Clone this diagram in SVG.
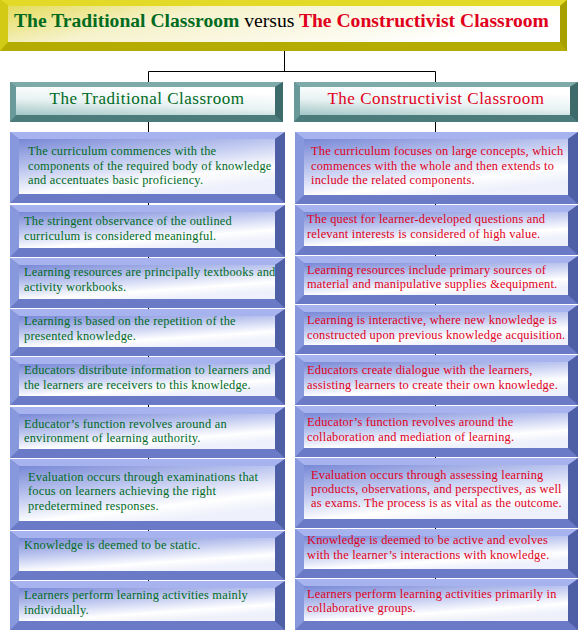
<svg xmlns="http://www.w3.org/2000/svg" width="579" height="632" viewBox="0 0 579 632">
<defs>
<linearGradient id="gBlue" x1="0" y1="0" x2="0.55" y2="1">
<stop offset="0" stop-color="#7888d6"/>
<stop offset="0.45" stop-color="#c0c9f0"/>
<stop offset="0.8" stop-color="#ffffff"/>
<stop offset="1" stop-color="#eef0fb"/>
</linearGradient>
<linearGradient id="gYel" x1="0" y1="0" x2="1" y2="0.3">
<stop offset="0" stop-color="#e4dc5c"/>
<stop offset="0.35" stop-color="#f6f2cc"/>
<stop offset="1" stop-color="#ffffff"/>
</linearGradient>
<linearGradient id="gTeal" x1="0" y1="1" x2="0.4" y2="0">
<stop offset="0" stop-color="#a4c6c6"/>
<stop offset="0.5" stop-color="#e8f2f2"/>
<stop offset="1" stop-color="#ffffff"/>
</linearGradient>
</defs>
<style>
.bb{fill:#6a7ac6}.bt{fill:#a6b3ef}.bl{fill:#8898dd}.br{fill:#4f5fa6}.bf{fill:url(#gBlue)}
.yb{fill:#b4ac00}.yt{fill:#e2da26}.yl{fill:#d2ca14}.yr{fill:#a89f00}.yf{fill:url(#gYel)}
.tb{fill:#4b7b7b}.tt{fill:#7faaaa}.tl{fill:#6a9999}.tr{fill:#3d6a6a}.tf{fill:url(#gTeal)}
.con{stroke:#000;stroke-width:1;fill:none}
text{font-family:"Liberation Serif","Times New Roman",serif}
.g{fill:#006b1e}.r{fill:#e0001b}
.body{font-size:12.4px;letter-spacing:0.2px}
.hd{font-size:17px;letter-spacing:0.5px}
.tl1{font-size:19.6px;font-weight:bold}
</style>
<rect width="579" height="632" fill="#ffffff"/>
<g id="connectors">
<path class="con" d="M284.5,50V71.5M148.5,71.5H435.5M148.5,71.5V82M435.5,71.5V82M148.5,122V630M435.5,122V630"/>
</g>
<g id="title">
<rect class="yb" x="0" y="0" width="567" height="51"/>
<polygon class="yt" points="0,0 567,0 560,6 8,6"/>
<polygon class="yl" points="0,0 8,6 8,42 0,51"/>
<polygon class="yr" points="567,0 567,51 560,42 560,6"/>
<rect class="yf" x="8" y="6" width="552" height="36"/>
<text class="tl1" x="14" y="27"><tspan class="g">The Traditional Classroom</tspan> <tspan font-weight="normal" fill="#000">versus</tspan> <tspan class="r">The Constructivist Classroom</tspan></text>
</g>
<g id="hdr-left">
<rect class="tb" x="10" y="82" width="273" height="40"/>
<polygon class="tt" points="10,82 283,82 275,87 16,87"/>
<polygon class="tl" points="10,82 16,87 16,115 10,122"/>
<polygon class="tr" points="283,82 283,122 275,115 275,87"/>
<rect class="tf" x="16" y="87" width="259" height="28"/>
<text class="hd g" x="147" y="104" text-anchor="middle">The Traditional Classroom</text>
</g>
<g id="hdr-right">
<rect class="tb" x="294" y="82" width="284" height="40"/>
<polygon class="tt" points="294,82 578,82 570,87 300,87"/>
<polygon class="tl" points="294,82 300,87 300,115 294,122"/>
<polygon class="tr" points="578,82 578,122 570,115 570,87"/>
<rect class="tf" x="300" y="87" width="270" height="28"/>
<text class="hd r" x="436" y="104" text-anchor="middle">The Constructivist Classroom</text>
</g>
<g id="L1">
<rect class="bb" x="10" y="132" width="275" height="71"/>
<polygon class="bt" points="10,132 285,132 275,139 19,139"/>
<polygon class="bl" points="10,132 19,139 19,194 10,203"/>
<polygon class="br" points="285,132 285,203 275,194 275,139"/>
<rect class="bf" x="19" y="139" width="256" height="55"/>
<text class="body g"><tspan x="28" y="155">The curriculum commences with the</tspan><tspan x="28" y="170">components of the required body of knowledge</tspan><tspan x="28" y="184">and accentuates basic proficiency.</tspan></text>
</g>
<g id="L2">
<rect class="bb" x="10" y="205" width="275" height="52"/>
<polygon class="bt" points="10,205 285,205 275,212 19,212"/>
<polygon class="bl" points="10,205 19,212 19,248 10,257"/>
<polygon class="br" points="285,205 285,257 275,248 275,212"/>
<rect class="bf" x="19" y="212" width="256" height="36"/>
<text class="body g"><tspan x="24" y="225">The stringent observance of the outlined</tspan><tspan x="24" y="240">curriculum is considered meaningful.</tspan></text>
</g>
<g id="L3">
<rect class="bb" x="10" y="258" width="275" height="50"/>
<polygon class="bt" points="10,258 285,258 275,265 19,265"/>
<polygon class="bl" points="10,258 19,265 19,299 10,308"/>
<polygon class="br" points="285,258 285,308 275,299 275,265"/>
<rect class="bf" x="19" y="265" width="256" height="34"/>
<text class="body g"><tspan x="24" y="276">Learning resources are principally textbooks and</tspan><tspan x="24" y="291">activity workbooks.</tspan></text>
</g>
<g id="L4">
<rect class="bb" x="10" y="309" width="275" height="47"/>
<polygon class="bt" points="10,309 285,309 275,316 19,316"/>
<polygon class="bl" points="10,309 19,316 19,347 10,356"/>
<polygon class="br" points="285,309 285,356 275,347 275,316"/>
<rect class="bf" x="19" y="316" width="256" height="31"/>
<text class="body g"><tspan x="24" y="325">Learning is based on the repetition of the</tspan><tspan x="24" y="340">presented knowledge.</tspan></text>
</g>
<g id="L5">
<rect class="bb" x="10" y="357" width="275" height="48"/>
<polygon class="bt" points="10,357 285,357 275,364 19,364"/>
<polygon class="bl" points="10,357 19,364 19,396 10,405"/>
<polygon class="br" points="285,357 285,405 275,396 275,364"/>
<rect class="bf" x="19" y="364" width="256" height="32"/>
<text class="body g"><tspan x="24" y="374">Educators distribute information to learners and</tspan><tspan x="24" y="389">the learners are receivers to this knowledge.</tspan></text>
</g>
<g id="L6">
<rect class="bb" x="10" y="407" width="275" height="51"/>
<polygon class="bt" points="10,407 285,407 275,414 19,414"/>
<polygon class="bl" points="10,407 19,414 19,449 10,458"/>
<polygon class="br" points="285,407 285,458 275,449 275,414"/>
<rect class="bf" x="19" y="414" width="256" height="35"/>
<text class="body g"><tspan x="24" y="428">Educator’s function revolves around an</tspan><tspan x="24" y="442">environment of learning authority.</tspan></text>
</g>
<g id="L7">
<rect class="bb" x="10" y="459" width="275" height="71"/>
<polygon class="bt" points="10,459 285,459 275,466 19,466"/>
<polygon class="bl" points="10,459 19,466 19,521 10,530"/>
<polygon class="br" points="285,459 285,530 275,521 275,466"/>
<rect class="bf" x="19" y="466" width="256" height="55"/>
<text class="body g"><tspan x="28" y="481">Evaluation occurs through examinations that</tspan><tspan x="28" y="495">focus on learners achieving the right</tspan><tspan x="28" y="510">predetermined responses.</tspan></text>
</g>
<g id="L8">
<rect class="bb" x="10" y="531" width="275" height="49"/>
<polygon class="bt" points="10,531 285,531 275,538 19,538"/>
<polygon class="bl" points="10,531 19,538 19,571 10,580"/>
<polygon class="br" points="285,531 285,580 275,571 275,538"/>
<rect class="bf" x="19" y="538" width="256" height="33"/>
<text class="body g"><tspan x="24" y="549">Knowledge is deemed to be static.</tspan></text>
</g>
<g id="L9">
<rect class="bb" x="10" y="581" width="275" height="49"/>
<polygon class="bt" points="10,581 285,581 275,588 19,588"/>
<polygon class="bl" points="10,581 19,588 19,621 10,630"/>
<polygon class="br" points="285,581 285,630 275,621 275,588"/>
<rect class="bf" x="19" y="588" width="256" height="33"/>
<text class="body g"><tspan x="24" y="599">Learners perform learning activities mainly</tspan><tspan x="24" y="614">individually.</tspan></text>
</g>
<g id="R1">
<rect class="bb" x="295" y="132" width="283" height="72"/>
<polygon class="bt" points="295,132 578,132 568,139 304,139"/>
<polygon class="bl" points="295,132 304,139 304,195 295,204"/>
<polygon class="br" points="578,132 578,204 568,195 568,139"/>
<rect class="bf" x="304" y="139" width="264" height="56"/>
<text class="body r"><tspan x="311" y="155">The curriculum focuses on large concepts, which</tspan><tspan x="311" y="170">commences with the whole and then extends to</tspan><tspan x="311" y="184">include the related components.</tspan></text>
</g>
<g id="R2">
<rect class="bb" x="295" y="205" width="283" height="50"/>
<polygon class="bt" points="295,205 578,205 568,212 304,212"/>
<polygon class="bl" points="295,205 304,212 304,246 295,255"/>
<polygon class="br" points="578,205 578,255 568,246 568,212"/>
<rect class="bf" x="304" y="212" width="264" height="34"/>
<text class="body r"><tspan x="307" y="223">The quest for learner-developed questions and</tspan><tspan x="307" y="238">relevant interests is considered of high value.</tspan></text>
</g>
<g id="R3">
<rect class="bb" x="295" y="256" width="283" height="48"/>
<polygon class="bt" points="295,256 578,256 568,263 304,263"/>
<polygon class="bl" points="295,256 304,263 304,295 295,304"/>
<polygon class="br" points="578,256 578,304 568,295 568,263"/>
<rect class="bf" x="304" y="263" width="264" height="32"/>
<text class="body r"><tspan x="307" y="274">Learning resources include primary sources of</tspan><tspan x="307" y="288">material and manipulative supplies &amp;equipment.</tspan></text>
</g>
<g id="R4">
<rect class="bb" x="295" y="305" width="283" height="49"/>
<polygon class="bt" points="295,305 578,305 568,312 304,312"/>
<polygon class="bl" points="295,305 304,312 304,345 295,354"/>
<polygon class="br" points="578,305 578,354 568,345 568,312"/>
<rect class="bf" x="304" y="312" width="264" height="33"/>
<text class="body r"><tspan x="307" y="324">Learning is interactive, where new knowledge is</tspan><tspan x="307" y="339">constructed upon previous knowledge acquisition.</tspan></text>
</g>
<g id="R5">
<rect class="bb" x="295" y="355" width="283" height="50"/>
<polygon class="bt" points="295,355 578,355 568,362 304,362"/>
<polygon class="bl" points="295,355 304,362 304,396 295,405"/>
<polygon class="br" points="578,355 578,405 568,396 568,362"/>
<rect class="bf" x="304" y="362" width="264" height="34"/>
<text class="body r"><tspan x="307" y="374">Educators create dialogue with the learners,</tspan><tspan x="307" y="389">assisting learners to create their own knowledge.</tspan></text>
</g>
<g id="R6">
<rect class="bb" x="295" y="406" width="283" height="51"/>
<polygon class="bt" points="295,406 578,406 568,413 304,413"/>
<polygon class="bl" points="295,406 304,413 304,448 295,457"/>
<polygon class="br" points="578,406 578,457 568,448 568,413"/>
<rect class="bf" x="304" y="413" width="264" height="35"/>
<text class="body r"><tspan x="307" y="426">Educator’s function revolves around the</tspan><tspan x="307" y="441">collaboration and mediation of learning.</tspan></text>
</g>
<g id="R7">
<rect class="bb" x="295" y="458" width="283" height="70"/>
<polygon class="bt" points="295,458 578,458 568,465 304,465"/>
<polygon class="bl" points="295,458 304,465 304,519 295,528"/>
<polygon class="br" points="578,458 578,528 568,519 568,465"/>
<rect class="bf" x="304" y="465" width="264" height="54"/>
<text class="body r"><tspan x="311" y="479">Evaluation occurs through assessing learning</tspan><tspan x="311" y="493">products, observations, and perspectives, as well</tspan><tspan x="311" y="507">as exams. The process is as vital as the outcome.</tspan></text>
</g>
<g id="R8">
<rect class="bb" x="295" y="529" width="283" height="49"/>
<polygon class="bt" points="295,529 578,529 568,536 304,536"/>
<polygon class="bl" points="295,529 304,536 304,569 295,578"/>
<polygon class="br" points="578,529 578,578 568,569 568,536"/>
<rect class="bf" x="304" y="536" width="264" height="33"/>
<text class="body r"><tspan x="307" y="544">Knowledge is deemed to be active and evolves</tspan><tspan x="307" y="559">with the learner’s interactions with knowledge.</tspan></text>
</g>
<g id="R9">
<rect class="bb" x="295" y="579" width="283" height="51"/>
<polygon class="bt" points="295,579 578,579 568,586 304,586"/>
<polygon class="bl" points="295,579 304,586 304,621 295,630"/>
<polygon class="br" points="578,579 578,630 568,621 568,586"/>
<rect class="bf" x="304" y="586" width="264" height="35"/>
<text class="body r"><tspan x="307" y="598">Learners perform learning activities primarily in</tspan><tspan x="307" y="612">collaborative groups.</tspan></text>
</g>
</svg>
